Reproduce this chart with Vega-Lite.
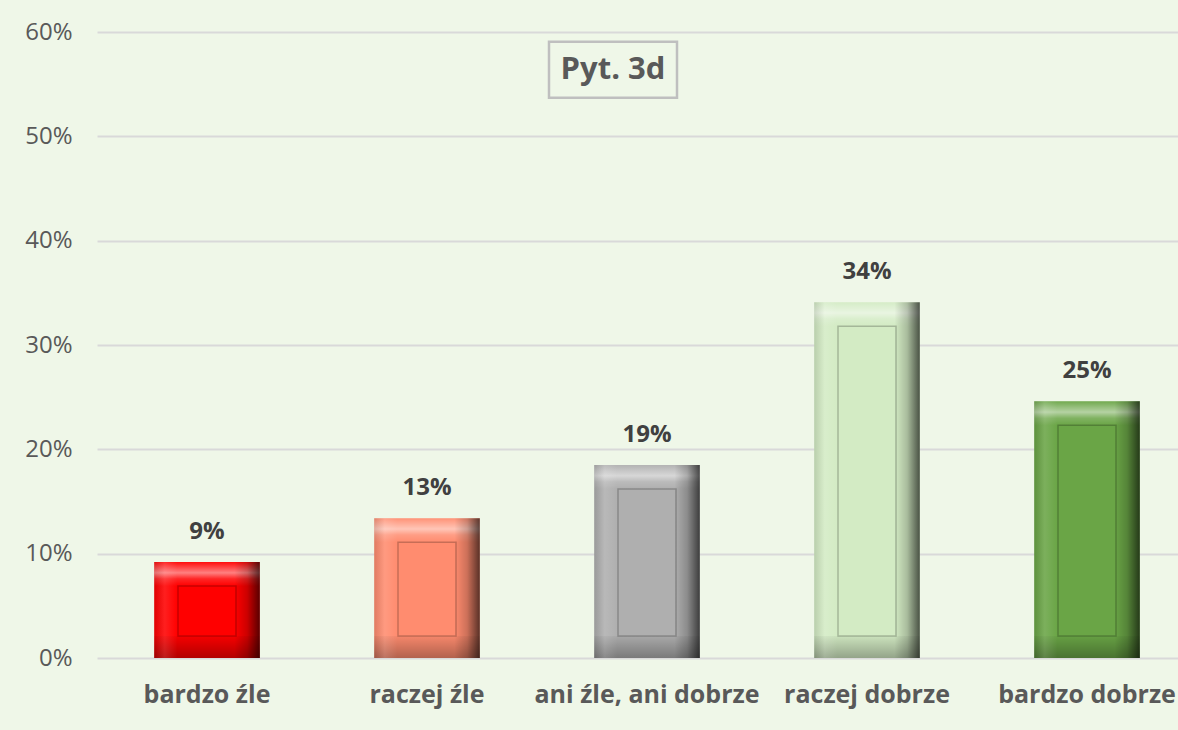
{
  "$schema": "https://vega.github.io/schema/vega-lite/v6.json",
  "width": 1081,
  "height": 626,
  "autosize": {"type": "none"},
  "padding": {"left": 97, "top": 32, "right": 0, "bottom": 72},
  "background": "#EFF7E8",
  "config": {"view": {"stroke": null}, "font": "Open Sans"},
  "datasets": {
    "bars": [
      {"cat": "bardzo źle", "value": 0.092},
      {"cat": "raczej źle", "value": 0.134},
      {"cat": "ani źle, ani dobrze", "value": 0.185},
      {"cat": "raczej dobrze", "value": 0.341},
      {"cat": "bardzo dobrze", "value": 0.246}
    ],
    "titlebox": [
      {"t": "Pyt. 3d", "cat": "ani źle, ani dobrze", "y": 0.5638, "y1": 0.537, "y2": 0.5906}
    ]
  },
  "encoding": {
    "x": {
      "field": "cat", "type": "nominal",
      "sort": ["bardzo źle", "raczej źle", "ani źle, ani dobrze", "raczej dobrze", "bardzo dobrze"],
      "scale": {"range": [0, 1100], "paddingInner": 0.52, "paddingOuter": 0.26},
      "axis": {
        "title": null, "domain": false, "ticks": false, "labelAngle": 0,
        "labelFont": "Open Sans", "labelFontSize": 25, "labelFontWeight": "bold",
        "labelColor": "#595959", "labelPadding": 24, "labelOverlap": false, "labelBound": false, "labelLimit": 0
      }
    }
  },
  "layer": [
    {
      "data": {"name": "bars"},
      "mark": {"type": "bar"},
      "encoding": {
        "y": {
          "field": "value", "type": "quantitative",
          "scale": {"domain": [0, 0.6], "nice": false},
          "axis": {
            "title": null, "format": ".0%", "values": [0, 0.1, 0.2, 0.3, 0.4, 0.5, 0.6],
            "domain": false, "ticks": false, "gridColor": "#D9D9D9", "gridWidth": 2,
            "labelFont": "Open Sans", "labelFontSize": 24, "labelColor": "#595959", "labelPadding": 25
          }
        },
        "color": {
          "field": "cat", "type": "nominal", "legend": null,
          "scale": {
            "domain": ["bardzo źle", "raczej źle", "ani źle, ani dobrze", "raczej dobrze", "bardzo dobrze"],
            "range": ["#FF0000", "#FF8C6F", "#AFAFAF", "#D3EBC4", "#6AA546"]
          }
        }
      }
    },
    {
      "data": {"name": "bars"},
      "mark": {
        "type": "bar", "y2Offset": 24,
        "color": {
          "gradient": "linear", "x1": 0, "y1": 0, "x2": 0, "y2": 1,
          "stops": [
            {"offset": 0, "color": "rgba(255,255,255,0.05)"},
            {"offset": 0.45, "color": "rgba(255,255,255,0.5)"},
            {"offset": 0.7, "color": "rgba(255,255,255,0.15)"},
            {"offset": 1, "color": "rgba(255,255,255,0)"}
          ]
        }
      },
      "encoding": {
        "y": {"field": "value", "type": "quantitative"},
        "y2": {"field": "value"}
      }
    },
    {
      "data": {"name": "bars"},
      "mark": {
        "type": "bar", "yOffset": -22,
        "color": {
          "gradient": "linear", "x1": 0, "y1": 0, "x2": 0, "y2": 1,
          "stops": [
            {"offset": 0, "color": "rgba(0,0,0,0.04)"},
            {"offset": 1, "color": "rgba(0,0,0,0.3)"}
          ]
        }
      },
      "encoding": {
        "y": {"datum": 0, "type": "quantitative"},
        "y2": {"datum": 0}
      }
    },
    {
      "data": {"name": "bars"},
      "mark": {
        "type": "bar",
        "color": {
          "gradient": "linear", "x1": 0, "y1": 0, "x2": 1, "y2": 0,
          "stops": [
            {"offset": 0, "color": "rgba(0,0,0,0.12)"},
            {"offset": 0.1, "color": "rgba(255,255,255,0.12)"},
            {"offset": 0.22, "color": "rgba(255,255,255,0)"},
            {"offset": 0.76, "color": "rgba(0,0,0,0)"},
            {"offset": 0.88, "color": "rgba(0,0,0,0.2)"},
            {"offset": 1, "color": "rgba(0,0,0,0.65)"}
          ]
        }
      },
      "encoding": {"y": {"field": "value", "type": "quantitative"}}
    },
    {
      "data": {"name": "bars"},
      "mark": {
        "type": "bar", "width": 58, "yOffset": 24, "y2Offset": -22,
        "fill": "transparent", "stroke": "rgba(0,0,0,0.22)", "strokeWidth": 1.5
      },
      "encoding": {
        "y": {"field": "value", "type": "quantitative"},
        "y2": {"datum": 0}
      }
    },
    {
      "data": {"name": "bars"},
      "mark": {
        "type": "text", "dy": -30, "font": "Open Sans", "fontSize": 24,
        "fontWeight": "bold", "color": "#404040"
      },
      "encoding": {
        "y": {"field": "value", "type": "quantitative"},
        "text": {"field": "value", "type": "quantitative", "format": ".0%"}
      }
    },
    {
      "data": {"name": "titlebox"},
      "mark": {
        "type": "bar", "width": 128, "xOffset": -34,
        "fill": "transparent", "stroke": "#BFBFBF", "strokeWidth": 2.5
      },
      "encoding": {
        "y": {"field": "y1", "type": "quantitative"},
        "y2": {"field": "y2"}
      }
    },
    {
      "data": {"name": "titlebox"},
      "mark": {
        "type": "text", "xOffset": -34, "font": "Open Sans", "fontSize": 31,
        "fontWeight": "bold", "color": "#595959"
      },
      "encoding": {
        "y": {"field": "y", "type": "quantitative"},
        "text": {"field": "t", "type": "nominal"}
      }
    }
  ]
}
